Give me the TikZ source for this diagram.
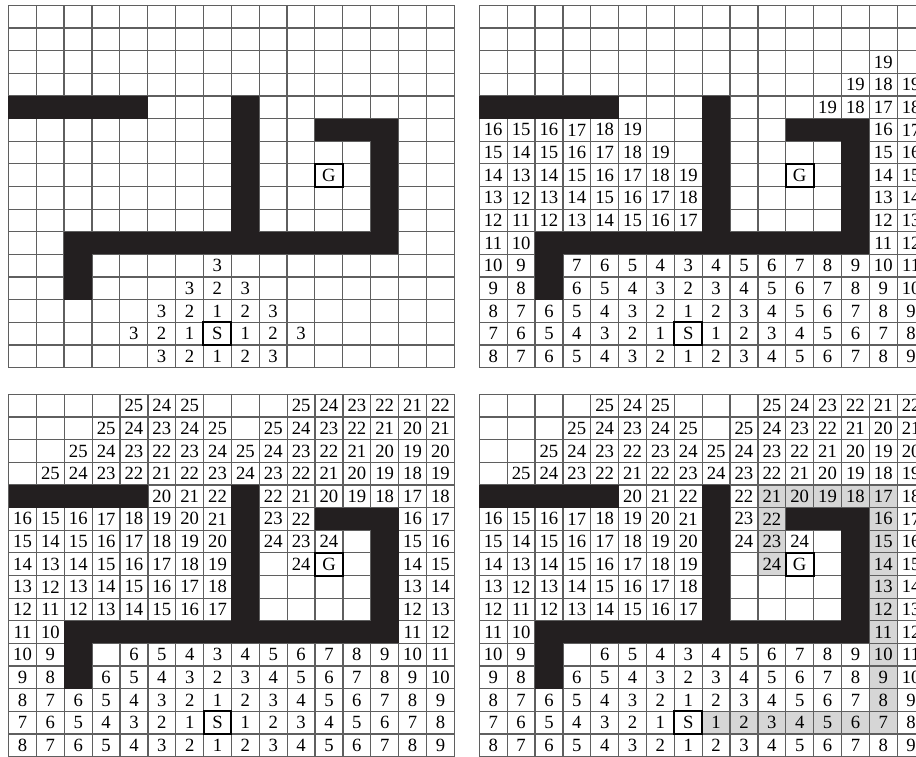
\documentclass[tikz,border=0pt]{standalone}
\usepackage{fontspec}
\setmainfont{Liberation Serif}
\definecolor{wallc}{RGB}{35,31,32}
\definecolor{linec}{RGB}{95,95,95}
\definecolor{pathc}{RGB}{214,214,214}
\tikzset{
  gridline/.style={draw=linec, line width=0.95pt, line cap=rect},
  wall/.style={fill=wallc},
  pathcell/.style={fill=pathc},
  num/.style={inner sep=0pt, font={\fontsize{14pt}{14pt}\selectfont}},
  markbox/.style={draw=black, line width=1.5pt, inner sep=0pt,
    minimum width=20.895pt, minimum height=16.9875pt,
    font={\fontsize{14pt}{14pt}\selectfont}}
}
\newcommand\mazegrid[5]{%
\begin{scope}[shift={(#2,#3)}, x=20.895pt, y=-16.9875pt]
  #5
  \foreach \i in {0,...,16} {
    \draw[gridline] (\i,0) -- (\i,16);
    \draw[gridline] (0,\i) -- (16,\i);
  }
  \fill[wall] (0,4) rectangle (5,5);
  \fill[wall] (8,4) rectangle (9,11);
  \fill[wall] (11,5) rectangle (14,6);
  \fill[wall] (13,5) rectangle (14,11);
  \fill[wall] (2,10) rectangle (14,11);
  \fill[wall] (2,10) rectangle (3,13);
  \node[markbox] (#1-S) at (7.5,14.5) {S};
  \node[markbox] (#1-G) at (11.5,7.5) {G};
  \foreach \row [count=\ri from 0] in #4 {
    \foreach \val [count=\ci from 0] in \row {
      \ifnum\val>0 \node[num] (#1-\ci-\ri) at (\ci+0.5,\ri+0.5) {\val};\fi
    }
  }
\end{scope}}
\def\rowsA{{0,0,0,0,0,0,0,0,0,0,0,0,0,0,0,0},%
{0,0,0,0,0,0,0,0,0,0,0,0,0,0,0,0},%
{0,0,0,0,0,0,0,0,0,0,0,0,0,0,0,0},%
{0,0,0,0,0,0,0,0,0,0,0,0,0,0,0,0},%
{0,0,0,0,0,0,0,0,0,0,0,0,0,0,0,0},%
{0,0,0,0,0,0,0,0,0,0,0,0,0,0,0,0},%
{0,0,0,0,0,0,0,0,0,0,0,0,0,0,0,0},%
{0,0,0,0,0,0,0,0,0,0,0,0,0,0,0,0},%
{0,0,0,0,0,0,0,0,0,0,0,0,0,0,0,0},%
{0,0,0,0,0,0,0,0,0,0,0,0,0,0,0,0},%
{0,0,0,0,0,0,0,0,0,0,0,0,0,0,0,0},%
{0,0,0,0,0,0,0,3,0,0,0,0,0,0,0,0},%
{0,0,0,0,0,0,3,2,3,0,0,0,0,0,0,0},%
{0,0,0,0,0,3,2,1,2,3,0,0,0,0,0,0},%
{0,0,0,0,3,2,1,0,1,2,3,0,0,0,0,0},%
{0,0,0,0,0,3,2,1,2,3,0,0,0,0,0,0}}
\def\rowsB{{0,0,0,0,0,0,0,0,0,0,0,0,0,0,0,0},%
{0,0,0,0,0,0,0,0,0,0,0,0,0,0,0,0},%
{0,0,0,0,0,0,0,0,0,0,0,0,0,0,19,0},%
{0,0,0,0,0,0,0,0,0,0,0,0,0,19,18,19},%
{0,0,0,0,0,0,0,0,0,0,0,0,19,18,17,18},%
{16,15,16,17,18,19,0,0,0,0,0,0,0,0,16,17},%
{15,14,15,16,17,18,19,0,0,0,0,0,0,0,15,16},%
{14,13,14,15,16,17,18,19,0,0,0,0,0,0,14,15},%
{13,12,13,14,15,16,17,18,0,0,0,0,0,0,13,14},%
{12,11,12,13,14,15,16,17,0,0,0,0,0,0,12,13},%
{11,10,0,0,0,0,0,0,0,0,0,0,0,0,11,12},%
{10,9,0,7,6,5,4,3,4,5,6,7,8,9,10,11},%
{9,8,0,6,5,4,3,2,3,4,5,6,7,8,9,10},%
{8,7,6,5,4,3,2,1,2,3,4,5,6,7,8,9},%
{7,6,5,4,3,2,1,0,1,2,3,4,5,6,7,8},%
{8,7,6,5,4,3,2,1,2,3,4,5,6,7,8,9}}
\def\rowsC{{0,0,0,0,25,24,25,0,0,0,25,24,23,22,21,22},%
{0,0,0,25,24,23,24,25,0,25,24,23,22,21,20,21},%
{0,0,25,24,23,22,23,24,25,24,23,22,21,20,19,20},%
{0,25,24,23,22,21,22,23,24,23,22,21,20,19,18,19},%
{0,0,0,0,0,20,21,22,0,22,21,20,19,18,17,18},%
{16,15,16,17,18,19,20,21,0,23,22,0,0,0,16,17},%
{15,14,15,16,17,18,19,20,0,24,23,24,0,0,15,16},%
{14,13,14,15,16,17,18,19,0,0,24,0,0,0,14,15},%
{13,12,13,14,15,16,17,18,0,0,0,0,0,0,13,14},%
{12,11,12,13,14,15,16,17,0,0,0,0,0,0,12,13},%
{11,10,0,0,0,0,0,0,0,0,0,0,0,0,11,12},%
{10,9,0,0,6,5,4,3,4,5,6,7,8,9,10,11},%
{9,8,0,6,5,4,3,2,3,4,5,6,7,8,9,10},%
{8,7,6,5,4,3,2,1,2,3,4,5,6,7,8,9},%
{7,6,5,4,3,2,1,0,1,2,3,4,5,6,7,8},%
{8,7,6,5,4,3,2,1,2,3,4,5,6,7,8,9}}
\begin{document}
\begin{tikzpicture}[x=0.75pt,y=-0.75pt]
\useasboundingbox (0,0) rectangle (916,756);
\clip (0,0) rectangle (916,756);
\mazegrid{ga}{8.4}{5.3}{\rowsA}{}
\mazegrid{gb}{479.3}{5.3}{\rowsB}{}
\mazegrid{gc}{8.6}{394.3}{\rowsC}{}
\mazegrid{gd}{479.3}{394.3}{\rowsC}{%
  \fill[pathcell] (10,4) rectangle (15,5);
  \fill[pathcell] (10,5) rectangle (11,8);
  \fill[pathcell] (14,5) rectangle (15,15);
  \fill[pathcell] (8,14) rectangle (14,15);}
\end{tikzpicture}
\end{document}
